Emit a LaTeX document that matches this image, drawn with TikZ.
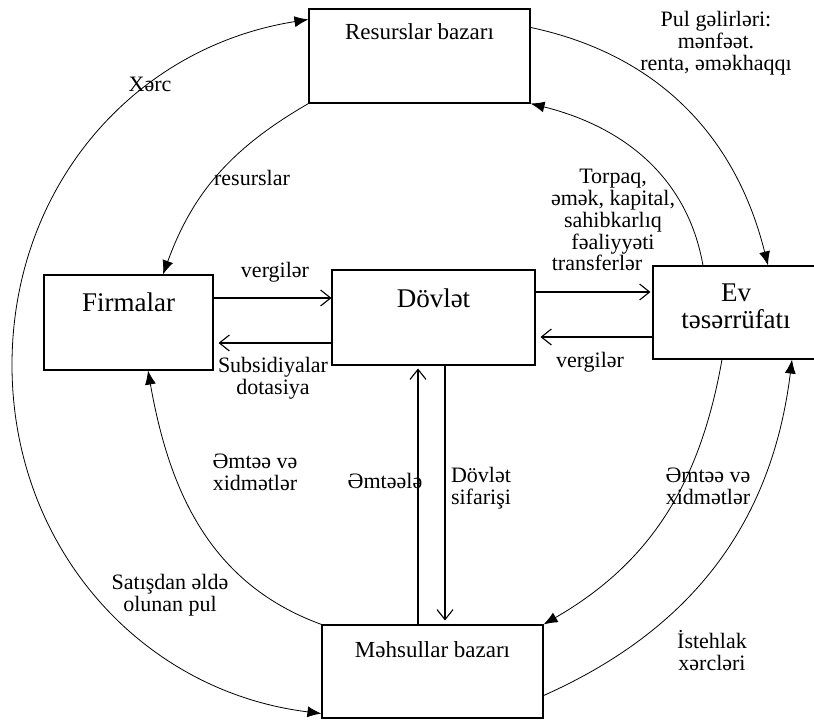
\documentclass[tikz,border=0pt]{standalone}
\usepackage{fontspec}
\setmainfont{Liberation Serif}
\usetikzlibrary{arrows.meta}

\tikzset{
  box/.style={draw, rectangle, line width=1.1pt, inner sep=3pt,
    font=\fontsize{27}{28}\selectfont},
  lbl/.style={align=center, inner sep=0pt, font=\fontsize{22}{22}\selectfont},
  flow/.style={draw, line width=1.1pt, -{Straight Barb[length=10pt,width=16pt]}},
  loop/.style={draw, line width=0.8pt, -{Latex[length=14pt,width=11pt]}}
}

\begin{document}
\begin{tikzpicture}[x=1pt,y=1pt]
      \useasboundingbox (0,0) rectangle (814,723);

      \begin{scope}[every node/.style={box}]
        \node (res)  at (419.5,667) [minimum width=221pt, minimum height=94pt,
          text depth=48pt, font=\fontsize{23}{24}\selectfont] {Resurslar bazarı};
        \node (firm) at (128.5,400.5) [minimum width=169pt, minimum height=95pt,
          text depth=41pt] {Firmalar};
        \node (dov)  at (433.5,405.5) [minimum width=203pt, minimum height=95pt,
          text depth=39pt] {Dövlət};
        \node (ev)   at (736.5,410.5) [minimum width=167pt, minimum height=93pt] {};
        \node (mhs)  at (432.5,51.5)  [minimum width=221pt, minimum height=93pt,
          text depth=43pt, font=\fontsize{23}{24}\selectfont] {Məhsullar bazarı};
      \end{scope}

      \node[lbl, font=\fontsize{27}{27}\selectfont] (evtxt) at (736,416.5) {Ev\\təsərrüfatı};

      % ports on the boxes
      \coordinate (L)     at (12,358);
      \coordinate (resW)  at ([yshift=-11pt]res.north west);
      \coordinate (resE)  at ([yshift=-19pt]res.north east);
      \coordinate (firmN) at ([xshift=34.5pt]firm.north);
      \coordinate (firmS) at ([xshift=19.5pt]firm.south);
      \coordinate (evNW)  at ([xshift=-33.5pt]ev.north);
      \coordinate (evNE)  at ([xshift=31.5pt]ev.north);
      \coordinate (evSW)  at ([xshift=-14.5pt]ev.south);
      \coordinate (evSE)  at ([xshift=55.5pt]ev.south);
      \coordinate (mhsW)  at ([yshift=5pt]mhs.south west);
      \coordinate (mhsE)  at ([yshift=23pt]mhs.south east);

      \begin{scope}[every edge/.style={loop}]
        \path (L)    edge[out=90, in=189]  (resW);
        \path (L)    edge[out=270, in=173] (mhsW);
        \path (resE) edge[out=-12, in=104] (evNE);
        \path (evNW) edge[out=100, in=-14] (res.south east);
        \path (res.south west) edge[out=210, in=70]  (firmN);
        \path (mhs.north west) edge[out=160, in=-80] (firmS);
        \path (evSW) edge[out=260, in=30]  (mhs.north east);
        \path (mhsE) edge[out=24, in=-97]  (evSE);
      \end{scope}

      \draw[flow] ([yshift=24.5pt]firm.east) -- ([yshift=24.5pt]firm.east -| dov.west);
      \draw[flow, shorten >=5pt] ([yshift=-25.5pt]dov.west) -- ([yshift=-25.5pt]dov.west -| firm.east);
      \draw[flow, shorten >=2pt] ([yshift=25.5pt]dov.east) -- ([yshift=25.5pt]dov.east -| ev.west);
      \draw[flow, shorten >=5pt] ([yshift=-24.5pt]ev.west) -- ([yshift=-24.5pt]ev.west -| dov.east);
      \draw[flow, shorten >=3pt] ([xshift=-14.5pt]mhs.north) -- ([xshift=-14.5pt]mhs.north |- dov.south);
      \draw[flow, shorten >=4pt] ([xshift=11.5pt]dov.south) -- ([xshift=11.5pt]dov.south |- mhs.north);

      \begin{scope}[every node/.style={lbl}]
        \node (lxerc)  at (150,639) {Xərc};
        \node (lres)   at (252,545) {resurslar};
        \node (lpul)   at (716,680) {Pul gəlirləri:\\mənfəət.\\renta, əməkhaqqı};
        \node (ltor)   at (613,511) {Torpaq,\\əmək, kapital,\\sahibkarlıq\\fəaliyyəti};
        \node (lverg1) at (275,451) {vergilər};
        \node (ltrans) at (597,460) {transferlər};
        \node (lverg2) at (590,361) {vergilər};
        \node (lsub)   at (273,345) {Subsidiyalar\\dotasiya};
        \node (lemt1)  at (255,251) {Əmtəə və\\xidmətlər};
        \node (lemt)   at (385,242) {Əmtəələ};
        \node (lsif)   at (481,235) {Dövlət\\sifarişi};
        \node (lemt2)  at (708,237) {Əmtəə və\\xidmətlər};
        \node (lsat)   at (170,128) {Satışdan əldə\\olunan pul};
        \node (list)   at (712,72)  {İstehlak\\xərcləri};
      \end{scope}

    \end{tikzpicture}
\end{document}
